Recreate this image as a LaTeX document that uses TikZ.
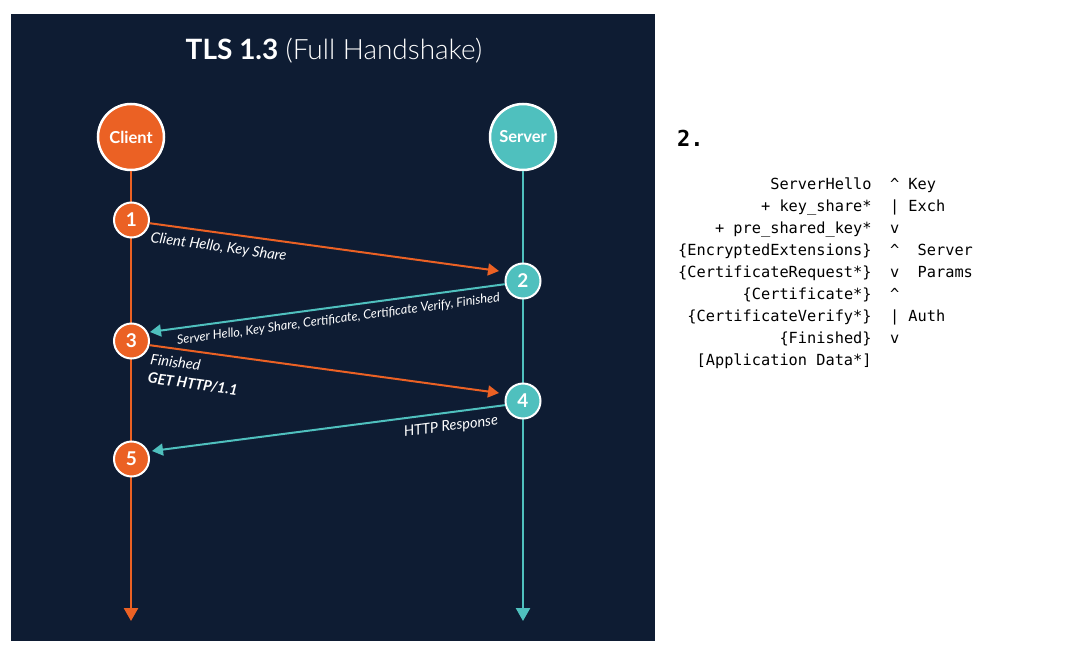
\documentclass[tikz,border=0pt]{standalone}
\usepackage{fontspec}
\setmainfont{Lato}
\newfontfamily\lightf{Lato Light}
\newfontfamily\monof{DejaVu Sans Mono}
\usetikzlibrary{arrows.meta,calc}
\definecolor{bgnavy}{HTML}{0E1C33}
\definecolor{orng}{HTML}{EB6124}
\definecolor{teal2}{HTML}{4FC0BE}
\begin{document}
\begin{tikzpicture}[x=1pt,y=-1pt,
  actor/.style={circle,draw=white,line width=2.5pt,minimum size=66pt,inner sep=0pt,
    text=white,font=\bfseries\fontsize{16.5}{18}\selectfont},
  numc/.style={circle,draw=white,line width=2pt,minimum size=35pt,inner sep=0pt,
    text=white,font=\bfseries\fontsize{19}{20}\selectfont},
  life/.style={line width=2.5pt,-{Triangle[length=13pt,width=14pt]}},
  msg/.style={line width=2pt,-{Triangle[length=11pt,width=12pt]}},
  lbl/.style={text=white,sloped,font=\itshape\fontsize{14.6}{19}\selectfont,inner xsep=2pt,inner ysep=7pt},
  mono/.style={anchor=base west,inner sep=0pt,font=\monof\fontsize{15.3}{18}\selectfont}]
\useasboundingbox (0,0) rectangle (1069,653);
\fill[white] (0,0) rectangle (1069,653);
\fill[bgnavy] (11,14) rectangle (655,641);
% title
\node[text=white,font=\fontsize{28}{32}\selectfont] (title) at (334,51)
  {\textbf{TLS 1.3} {\lightf(Full Handshake)}};
% actors
\node[actor,fill=orng] (client) at (131,137) {Client};
\node[actor,fill=teal2] (server) at (523,137) {Server};
\coordinate (cend) at (131,621);
\coordinate (send) at (523,621);
\draw[life,orng] (client) -- (cend);
\draw[life,teal2] (server) -- (send);
% steps
\node[numc,fill=orng] (n1) at (131.5,220) {1};
\node[numc,fill=teal2] (n2) at (523,281) {2};
\node[numc,fill=orng] (n3) at (131.5,341) {3};
\node[numc,fill=teal2] (n4) at (523,401) {4};
\node[numc,fill=orng] (n5) at (131.5,459) {5};
\coordinate (e1) at (499,271);
\coordinate (e2) at (150,332);
\coordinate (e3) at (499,393);
\coordinate (e4) at (152,451);
\draw[msg,orng] (n1.-10) -- (e1)
  node[lbl,pos=0,anchor=north west] (l1) {Client Hello, Key Share};
\draw[msg,teal2] (n2.190) -- (e2)
  node[lbl,pos=0,anchor=north east,inner xsep=6pt,inner ysep=6pt,font=\itshape\fontsize{12.7}{14}\selectfont] (l2)
  {Server Hello, Key Share, Certificate, Certificate Verify, Finished};
\draw[msg,orng] (n3.-13) -- (e3)
  node[lbl,pos=0,anchor=north west,align=left] (l3) {Finished\\\textbf{GET HTTP/1.1}};
\draw[msg,teal2] (n4.193) -- (e4)
  node[lbl,pos=0,anchor=north east,inner xsep=8pt] (l4) {HTTP Response};
% right text
\node[anchor=base west,inner sep=0pt,font=\monof\bfseries\fontsize{22}{24}\selectfont] (two) at (677,146.5) {2.};
\node[mono] (m1) at (678,189) {~~~~~~~~~~ServerHello~~\textasciicircum~Key};
\node[mono] (m2) at (678,211) {~~~~~~~~~+~key\_share*~~|~Exch};
\node[mono] (m3) at (678,233) {~~~~+~pre\_shared\_key*~~v};
\node[mono] (m4) at (678,255) {\{EncryptedExtensions\}~~\textasciicircum~~Server};
\node[mono] (m5) at (678,277) {\{CertificateRequest*\}~~v~~Params};
\node[mono] (m6) at (678,299) {~~~~~~~\{Certificate*\}~~\textasciicircum};
\node[mono] (m7) at (678,321) {~\{CertificateVerify*\}~~|~Auth};
\node[mono] (m8) at (678,343) {~~~~~~~~~~~\{Finished\}~~v};
\node[mono] (m9) at (678,365) {~~[Application~Data*]};
\end{tikzpicture}
\end{document}
